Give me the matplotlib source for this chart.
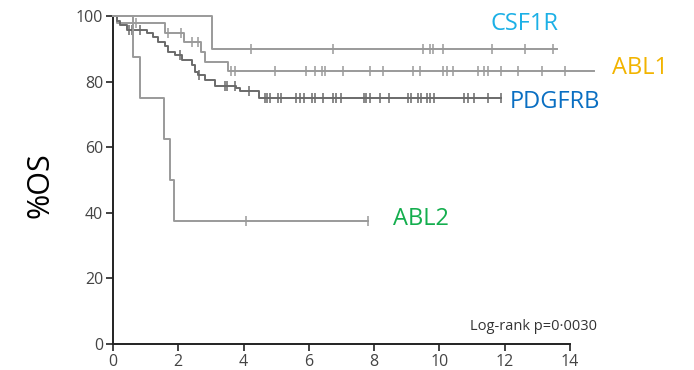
import numpy as np
import matplotlib.pyplot as plt

plt.rcParams['font.family'] = ['Open Sans', 'DejaVu Sans']

# curvas: tiempos de cambio y % de supervivencia (escalones)
csf1r_t = [0, 3.02, 13.59]
csf1r_s = [100, 90, 90]
csf1r_cens = [4.24, 6.73, 9.51, 9.71, 9.81, 10.12, 11.6, 12.62, 13.47]

abl1_t = [0, 0.12, 1.59, 2.17, 2.71, 2.81, 3.53, 14.74]
abl1_s = [100, 97.8, 94.7, 92.2, 89.1, 86.1, 83.2, 83.2]
abl1_cens = [0.72, 1.69, 2.08, 2.41, 2.61, 3.63, 3.73, 4.95, 5.9, 6.18, 6.41, 6.51,
             7.04, 7.88, 8.27, 9.2, 9.41, 10.12, 10.22, 10.43, 11.17, 11.38, 11.48,
             11.89, 12.4, 13.14, 13.84]

pdgfrb_t = [0, 0.11, 0.21, 0.42, 1.03, 1.23, 1.39, 1.59, 1.69, 1.90, 2.10, 2.41,
            2.51, 2.61, 2.81, 3.12, 3.78, 3.88, 4.47, 11.89]
pdgfrb_s = [100, 98.6, 97.3, 95.7, 94.7, 93.7, 92.2, 90.7, 89.1, 88.1, 86.6, 85.1,
            83.0, 82.0, 80.5, 78.8, 77.9, 77.1, 75.1, 75.1]
pdgfrb_cens = [0.50, 0.57, 0.83, 2.05, 2.63, 3.43, 3.50, 3.73, 4.16, 4.65, 4.73, 4.80,
               5.06, 5.16, 5.62, 5.72, 5.85, 6.10, 6.20, 6.43, 6.74, 6.84, 6.99,
               7.68, 7.76, 7.86, 8.19, 8.47, 9.03, 9.13, 9.34, 9.44, 9.61, 9.71,
               9.82, 10.76, 10.87, 11.07, 11.48, 11.89]

abl2_t = [0, 0.62, 0.83, 1.57, 1.76, 1.87, 7.80]
abl2_s = [100, 87.5, 75, 62.5, 50, 37.5, 37.5]
abl2_cens = [4.06, 7.80]

curvas = [
    ("CSF1R", csf1r_t, csf1r_s, csf1r_cens, "#9a9a9a", "#1cb0e6", (12.6, 97.6)),
    ("ABL1", abl1_t, abl1_s, abl1_cens, "#9a9a9a", "#f2b400", (16.15, 84.2)),
    ("PDGFRB", pdgfrb_t, pdgfrb_s, pdgfrb_cens, "#6a6a6a", "#0a6fc2", (13.55, 73.9)),
    ("ABL2", abl2_t, abl2_s, abl2_cens, "#9a9a9a", "#14ae4e", (9.42, 38.2)),
]

fig = plt.figure(figsize=(6.94, 3.70), dpi=100)
ax = fig.add_axes([0.1628, 0.0703, 0.6585, 0.8865])

for nombre, t, s, cens, col, col_txt, pos in curvas:
    ax.step(t, s, where='post', color=col, lw=1.4, clip_on=False, zorder=3)
    t_arr = np.array(t)
    s_arr = np.array(s)
    idx = np.searchsorted(t_arr, cens, side='right') - 1
    ax.plot(cens, s_arr[idx], ls='none', marker='|', ms=7, mew=1.1,
            color=col, clip_on=False, zorder=3)
    ax.text(pos[0], pos[1], nombre, color=col_txt, fontsize=17,
            ha='center', va='center', clip_on=False)

ax.set_xlim(0, 14)
ax.set_ylim(0, 100)
ax.set_xticks(range(0, 15, 2))
ax.set_yticks(range(0, 101, 20))
for lado in ['top', 'right']:
    ax.spines[lado].set_visible(False)
for lado in ['left', 'bottom']:
    ax.spines[lado].set_linewidth(1.4)
    ax.spines[lado].set_color('#222222')
ax.tick_params(direction='out', length=5, width=1.2, color='#222222',
               labelsize=11.5, labelcolor='#444444', pad=2)

ax.text(14.83, 5.2, "Log-rank p=0\u00b70030", ha='right', va='center',
        fontsize=10.5, color='#333333')

fig.text(0.058, 0.50, "%OS", rotation=90, fontsize=22, ha='center', va='center')

fig.savefig("out.png", dpi=100)
